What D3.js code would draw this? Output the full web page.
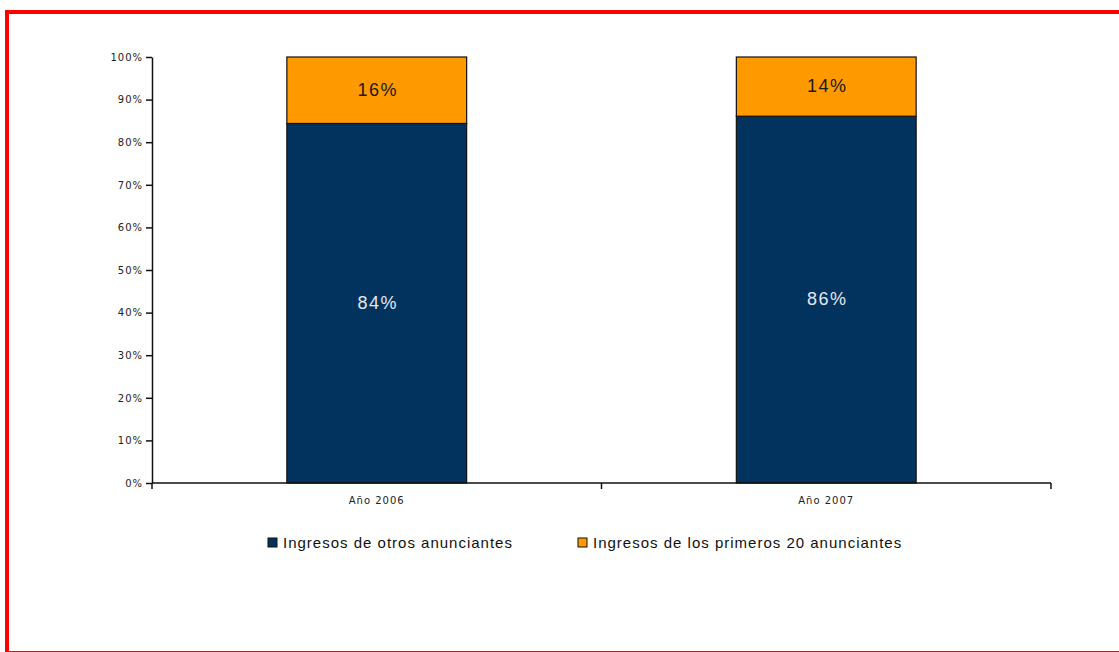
<!DOCTYPE html>
<html>
<head>
<meta charset="utf-8">
<script src="https://cdn.jsdelivr.net/npm/d3@7"></script>
<style>
  body { margin: 0; background: #fff; }
  svg { display: block; }
</style>
</head>
<body>
<script>
const years = ['Año 2006', 'Año 2007']
const otros = [84.4, 86.1]
const primeros = [15.6, 13.9]
const seriesNames = ['Ingresos de otros anunciantes', 'Ingresos de los primeros 20 anunciantes']
const yTicks = [0, 10, 20, 30, 40, 50, 60, 70, 80, 90, 100]

const colorOtros = '#02335f'
const colorPrimeros = '#ff9900'
const width = 1119
const height = 652
const font = 'Liberation Sans, Arial, sans-serif'

const rows = years.map((y, i) => ({ year: y, otros: otros[i], primeros: primeros[i] }))
const stacked = d3.stack().keys(['otros', 'primeros'])(rows)

const svg = d3.select('body').append('svg').attr('width', width).attr('height', height)

// red frame
svg.append('rect')
  .attr('x', 7).attr('y', 12)
  .attr('width', 1200).attr('height', 641)
  .attr('fill', 'none').attr('stroke', '#ff0000').attr('stroke-width', 4)

const x = d3.scaleBand().domain(years).range([152, 1051]).padding(0)
const y = d3.scaleLinear().domain([0, 100]).range([483, 57])
const barW = x.bandwidth() * 0.4

const g = svg.append('g').attr('font-family', font)

// bars
const layer = g.selectAll('g.layer')
  .data(stacked)
  .join('g')
  .attr('class', 'layer')
  .attr('fill', (d) => (d.key === 'otros' ? colorOtros : colorPrimeros))

layer.selectAll('rect')
  .data((d) => d)
  .join('rect')
  .attr('x', (d) => x(d.data.year) + (x.bandwidth() - barW) / 2)
  .attr('y', (d) => y(d[1]))
  .attr('width', barW)
  .attr('height', (d) => y(d[0]) - y(d[1]))
  .attr('stroke', '#111')
  .attr('stroke-width', 1.2)

// value labels
layer.selectAll('text')
  .data((d) => d.map((v) => ({ v, key: d.key })))
  .join('text')
  .attr('x', (d) => x(d.v.data.year) + x.bandwidth() / 2 + 1)
  .attr('y', (d) => (y(d.v[0]) + y(d.v[1])) / 2 - 1)
  .attr('dy', '0.36em')
  .attr('text-anchor', 'middle')
  .attr('font-size', 18)
  .attr('letter-spacing', 1.5)
  .attr('fill', (d) => (d.key === 'otros' ? '#e4e6ee' : '#1a1a1a'))
  .text((d) => `${Math.round(d.v[1] - d.v[0])}%`)

// y axis
const yAxis = g.append('g')
  .attr('transform', 'translate(152,0)')
  .call(d3.axisLeft(y).tickValues(yTicks).tickFormat((d) => `${d}%`).tickSize(6).tickSizeOuter(0))
yAxis.select('.domain').attr('stroke', '#111').attr('stroke-width', 1.5)
yAxis.selectAll('.tick line').attr('stroke', '#111').attr('stroke-width', 1.5)
yAxis.selectAll('.tick text')
  .attr('x', -9)
  .attr('font-family', 'DejaVu Sans, sans-serif')
  .attr('font-size', 10)
  .attr('letter-spacing', 1)
  .attr('fill', '#222')

// x axis with ticks between categories
const xAxis = g.append('g').attr('transform', 'translate(0,483)')
xAxis.append('line')
  .attr('x1', x.range()[0]).attr('x2', x.range()[1])
  .attr('stroke', '#111').attr('stroke-width', 1.5)
xAxis.selectAll('line.tk')
  .data([...years.map((d) => x(d)), x.range()[1]])
  .join('line')
  .attr('class', 'tk')
  .attr('x1', (d) => d).attr('x2', (d) => d)
  .attr('y1', 0).attr('y2', 6)
  .attr('stroke', '#111').attr('stroke-width', 1.5)
xAxis.selectAll('text')
  .data(years)
  .join('text')
  .attr('x', (d) => x(d) + x.bandwidth() / 2)
  .attr('y', 21)
  .attr('text-anchor', 'middle')
  .attr('font-family', 'DejaVu Sans, sans-serif')
  .attr('font-size', 10)
  .attr('letter-spacing', 1)
  .attr('fill', '#222')
  .text((d) => d)

// legend
const legendX = [268, 578]
const legend = g.selectAll('g.legend')
  .data(seriesNames)
  .join('g')
  .attr('class', 'legend')
  .attr('transform', (d, i) => `translate(${legendX[i]},538)`)
legend.append('rect')
  .attr('width', 9).attr('height', 9)
  .attr('fill', (d, i) => (i === 0 ? colorOtros : colorPrimeros))
  .attr('stroke', '#111').attr('stroke-width', 1)
legend.append('text')
  .attr('x', 15).attr('y', 10)
  .attr('font-size', 15)
  .attr('letter-spacing', 1)
  .attr('fill', '#111')
  .text((d) => d)
</script>
</body>
</html>
